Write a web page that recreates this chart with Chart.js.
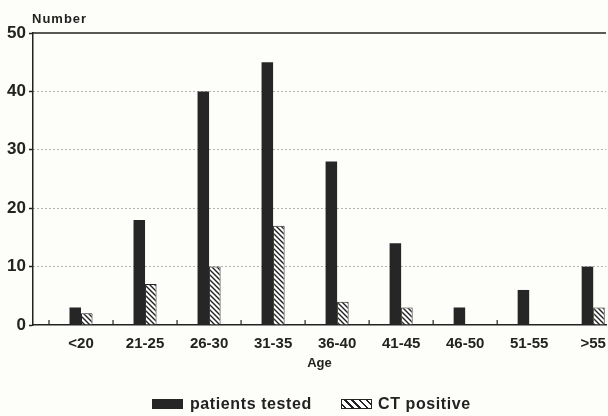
<!DOCTYPE html>
<html>
<head>
<meta charset="utf-8">
<script src="https://cdn.jsdelivr.net/npm/chart.js@4"></script>
<style>
  body { margin:0; background:#fdfdf9; }
  #wrap { position:relative; width:608px; height:416px; }
  .lg { position:absolute; font:bold 16px "Liberation Sans", Arial, sans-serif; letter-spacing:0.6px; color:#222; }
  .box { position:absolute; height:10px; width:31px; box-sizing:border-box; }
</style>
</head>
<body>
<div id="wrap">
  <canvas id="chart" width="608" height="416"></canvas>
  <div class="box" style="left:152px;top:399px;background:#262626;"></div>
  <div class="lg" style="left:190px;top:395px;">patients tested</div>
  <div class="box" style="left:341px;top:399px;border:1px solid #222;background:repeating-linear-gradient(45deg,#fff 0 2px,#222 2px 3.5px,#fff 3.5px 5px);"></div>
  <div class="lg" style="left:378px;top:395px;">CT positive</div>
</div>
<script>
// data
const ageGroups = ["<20", "21-25", "26-30", "31-35", "36-40", "41-45", "46-50", "51-55", ">55"];
const patientsTested = [3, 18, 40, 45, 28, 14, 3, 6, 10];
const ctPositive = [2, 7, 10, 17, 4, 3, 0, 0, 3];
const yTicks = [0, 10, 20, 30, 40, 50];

const FONT = "'Liberation Sans', Arial, sans-serif";
const INK = "#222";

// hatch pattern for the CT bars
function hatch() {
  const c = document.createElement("canvas");
  c.width = 5; c.height = 5;
  const g = c.getContext("2d");
  g.fillStyle = "#fff";
  g.fillRect(0, 0, 5, 5);
  g.strokeStyle = INK;
  g.lineWidth = 1.4;
  g.beginPath();
  g.moveTo(-1, -1); g.lineTo(6, 6);
  g.moveTo(-1, 4); g.lineTo(1, 6);
  g.moveTo(4, -1); g.lineTo(6, 1);
  g.stroke();
  return g.createPattern(c, "repeat");
}

const extras = {
  id: "extras",
  afterDraw(chart) {
    const { ctx, chartArea: a, scales: { x, y } } = chart;
    ctx.save();
    ctx.fillStyle = INK;
    ctx.font = "bold 13px " + FONT;
    ctx.letterSpacing = "1px";
    ctx.textBaseline = "alphabetic";
    ctx.fillText("Number", a.left - 1, a.top - 10);
    ctx.letterSpacing = "0px";
    // solid top line at 50
    ctx.strokeStyle = INK;
    ctx.lineWidth = 1.5;
    ctx.beginPath();
    ctx.moveTo(a.left, y.getPixelForValue(50));
    ctx.lineTo(a.right, y.getPixelForValue(50));
    ctx.stroke();
    // small upward ticks between the age groups
    ctx.lineWidth = 1.2;
    ageGroups.slice(0, -1).forEach((_, i) => {
      const px = x.getPixelForValue(i - 0.5);
      ctx.beginPath();
      ctx.moveTo(px, a.bottom);
      ctx.lineTo(px, a.bottom - 5);
      ctx.stroke();
    });
    ctx.restore();
  }
};

new Chart(document.getElementById("chart"), {
  type: "bar",
  data: {
    datasets: [
      { label: "patients tested", data: patientsTested.map((v, i) => ({ x: i, y: v })),
        backgroundColor: "#262626", borderWidth: 0 },
      { label: "CT positive", data: ctPositive.map((v, i) => ({ x: i, y: v })),
        backgroundColor: hatch(), borderColor: INK, borderWidth: 1 }
    ]
  },
  options: {
    responsive: false,
    animation: false,
    layout: { padding: { top: 33, left: 0, right: 2, bottom: 41 } },
    datasets: { bar: { categoryPercentage: 0.36, barPercentage: 1 } },
    plugins: { legend: { display: false }, tooltip: { enabled: false } },
    scales: {
      x: {
        type: "linear",
        offset: false,
        min: -0.75,
        max: 8.2,
        afterBuildTicks: s => { s.ticks = ageGroups.map((_, i) => ({ value: i })); },
        afterFit: s => { s.height = 50; },
        ticks: {
          callback: v => ageGroups[v],
          autoSkip: false, maxRotation: 0,
          color: INK, font: { family: FONT, weight: "bold", size: 15 }, padding: 2
        },
        grid: { display: false },
        border: { display: true, color: INK, width: 1.5 },
        title: {
          display: true, text: "Age", color: INK,
          font: { family: FONT, weight: "bold", size: 13 }, padding: { top: 2, bottom: 4 }
        }
      },
      y: {
        min: 0,
        max: 50,
        afterBuildTicks: s => { s.ticks = yTicks.map(v => ({ value: v })); },
        afterFit: s => { s.width = 33; },
        ticks: { color: INK, font: { family: FONT, weight: "bold", size: 17 }, padding: 3 },
        grid: {
          color: c => (c.tick && (c.tick.value === 0 || c.tick.value === 50)) ? "rgba(0,0,0,0)" : "#666",
          lineWidth: 1,
          tickColor: INK, tickLength: 4, tickWidth: 1.5, tickBorderDash: [1, 0]
        },
        border: { display: true, color: INK, width: 1.5, dash: [1, 3] }
      }
    }
  },
  plugins: [extras]
});
</script>
</body>
</html>
